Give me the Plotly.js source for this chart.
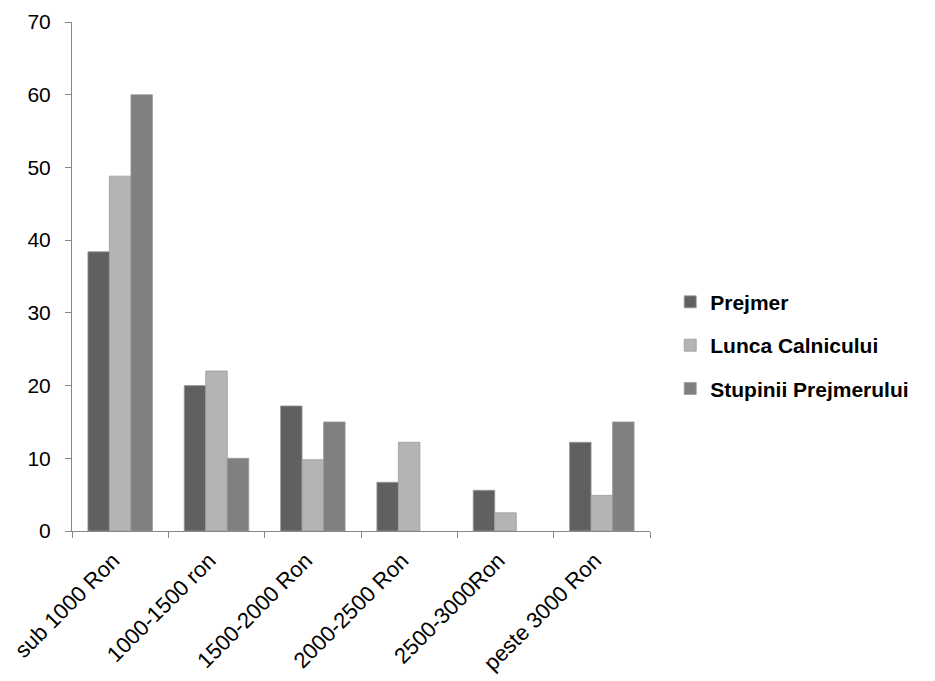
<!DOCTYPE html>
<html>
<head>
<meta charset="utf-8">
<script src="https://cdn.plot.ly/plotly-3.0.1.min.js"></script>
<style>html,body{margin:0;padding:0;background:#fff;}#chart{width:935px;height:681px;}</style>
</head>
<body>
<div id="chart"></div>
<script>
const categories = ["sub 1000 Ron", "1000-1500 ron", "1500-2000 Ron", "2000-2500 Ron", "2500-3000Ron", "peste 3000 Ron"];
const prejmer = [38.4, 20.0, 17.2, 6.7, 5.6, 12.2];
const luncaCalnicului = [48.8, 22.0, 9.8, 12.2, 2.5, 4.9];
const stupiniiPrejmerului = [60.0, 10.0, 15.0, 0, 0, 15.0];
const seriesNames = ["Prejmer", "Lunca Calnicului", "Stupinii Prejmerului"];
const seriesColors = ["#606060", "#b4b4b4", "#808080"];
const yTicks = [0, 10, 20, 30, 40, 50, 60, 70];

const seriesData = [prejmer, luncaCalnicului, stupiniiPrejmerului];
const traces = seriesData.map((vals, i) => ({
  type: "bar",
  name: seriesNames[i],
  x: categories,
  y: vals,
  legendgroup: "g" + i,
  marker: {
    color: seriesColors[i],
    line: {color: "#9a9a9a", width: vals.map(v => (v === 0 ? 0 : 0.8))}
  }
}));

const layout = {
  width: 935, height: 681,
  paper_bgcolor: "#ffffff", plot_bgcolor: "#ffffff",
  margin: {l: 72, r: 285, t: 22, b: 150},
  barmode: "group",
  bargap: 0.33,
  bargroupgap: 0,
  font: {family: "Liberation Sans, Arial, sans-serif", color: "#000000"},
  xaxis: {
    type: "category",
    tickangle: -45,
    tickson: "boundaries",
    ticks: "outside", ticklen: 6, tickcolor: "#868686", tickwidth: 1,
    ticklabelstandoff: 7,
    ticklabelshift: -7,
    showline: true, linecolor: "#868686", linewidth: 1,
    showgrid: false, zeroline: false,
    tickfont: {size: 22, color: "#000000"}
  },
  yaxis: {
    range: [0, 70],
    tickvals: yTicks,
    ticks: "outside", ticklen: 6, tickcolor: "#868686", tickwidth: 1,
    ticklabelstandoff: 10,
    showline: true, linecolor: "#868686", linewidth: 1,
    showgrid: false, zeroline: false,
    tickfont: {size: 21, color: "#000000"}
  },
  showlegend: true,
  legend: {
    x: 1.035, xanchor: "left", y: 0.365, yanchor: "middle",
    font: {size: 21, color: "#000000", family: "Liberation Sans, Arial, sans-serif", weight: "bold"},
    tracegroupgap: 13,
    itemwidth: 30,
    traceorder: "grouped"
  }
};

Plotly.newPlot("chart", traces, layout, {displayModeBar: false, staticPlot: true});
</script>
</body>
</html>
